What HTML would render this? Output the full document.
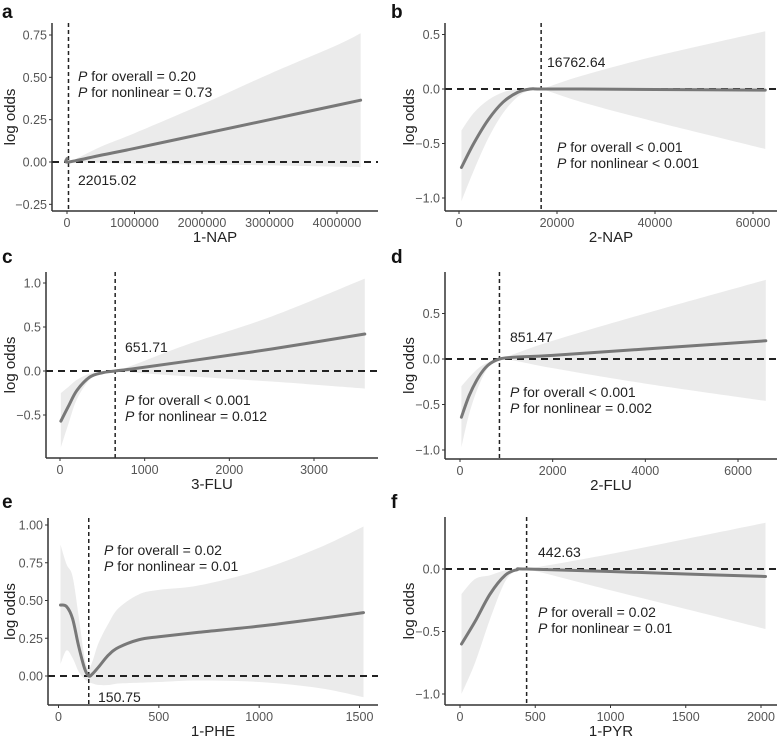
<!DOCTYPE html>
<html><head><meta charset="utf-8">
<style>
html,body{margin:0;padding:0;background:#fff;}
svg{display:block;font-family:"Liberation Sans",Arial,sans-serif;}
.tick{font-size:12.5px;fill:#555;}
.axt{font-size:15px;fill:#222;}
.ann{font-size:14px;fill:#222;}
.letter{font-size:19px;font-weight:bold;fill:#111;}
</style></head>
<body>
<svg id="chart" width="783" height="738" viewBox="0 0 783 738"></svg>
<script>
// ---- data arrays ----
const aX=[0,22015,500000,1000000,2000000,3000000,4000000,4350000];
const aY=[0.02,0,0.04,0.08,0.165,0.25,0.335,0.365];
const aLo=[0.01,0,-0.005,-0.01,-0.015,-0.02,-0.028,-0.03];
const aHi=[0.04,0,0.09,0.17,0.34,0.52,0.69,0.76];
const bX=[500,3000,6000,9000,12000,14500,16762,25000,40000,62500];
const bY=[-0.72,-0.5,-0.28,-0.12,-0.03,0,0,0,-0.005,-0.01];
const bLo=[-1.03,-0.75,-0.45,-0.22,-0.07,-0.01,0,-0.12,-0.3,-0.55];
const bHi=[-0.38,-0.22,-0.1,-0.03,0,0.005,0,0.12,0.3,0.53];
const cX=[10,100,200,350,500,651.71,900,1500,2500,3600];
const cY=[-0.57,-0.4,-0.22,-0.07,-0.02,0,0.03,0.11,0.25,0.42];
const cLo=[-0.87,-0.6,-0.32,-0.1,-0.03,0,-0.02,-0.06,-0.12,-0.2];
const cHi=[-0.25,-0.18,-0.1,-0.03,-0.01,0,0.08,0.3,0.62,1.05];
const dX=[30,200,400,600,851.47,1200,2000,4000,6600];
const dY=[-0.64,-0.4,-0.2,-0.07,0,0.02,0.04,0.11,0.2];
const dLo=[-0.97,-0.6,-0.3,-0.1,0,-0.02,-0.1,-0.27,-0.46];
const dHi=[-0.3,-0.2,-0.1,-0.04,0,0.06,0.2,0.5,0.87];
const eX=[10,40,70,100,130,150.75,170,200,250,300,400,500,700,1000,1300,1520];
const eY=[0.47,0.46,0.38,0.2,0.05,0,0.015,0.06,0.14,0.19,0.24,0.26,0.29,0.33,0.38,0.42];
const eLo=[0.08,0.17,0.12,0.03,-0.02,-0.04,-0.05,-0.06,-0.06,-0.05,-0.045,-0.04,-0.03,-0.04,-0.08,-0.14];
const eHi=[0.87,0.74,0.66,0.4,0.12,0.05,0.1,0.22,0.35,0.45,0.54,0.57,0.6,0.7,0.85,0.99];
const fX=[10,100,200,300,380,442.63,1000,1500,2030];
const fY=[-0.6,-0.42,-0.2,-0.05,-0.005,0,-0.02,-0.04,-0.06];
const fLo=[-1.0,-0.75,-0.4,-0.1,-0.01,0,-0.17,-0.32,-0.48];
const fHi=[-0.2,-0.08,-0.05,-0.01,0,0,0.12,0.24,0.37];
const aXTicks=[0,1000000,2000000,3000000,4000000], aYTicks=[-0.25,0,0.25,0.5,0.75];
const bXTicks=[0,20000,40000,60000], bYTicks=[-1,-0.5,0,0.5];
const cXTicks=[0,1000,2000,3000], cYTicks=[-0.5,0,0.5,1];
const dXTicks=[0,2000,4000,6000], dYTicks=[-1,-0.5,0,0.5];
const eXTicks=[0,500,1000,1500], eYTicks=[0,0.25,0.5,0.75,1];
const fXTicks=[0,500,1000,1500,2000], fYTicks=[-1,-0.5,0];
const cutoffs=[22015.02,16762.64,651.71,851.47,150.75,442.63];
const cutoffLabels=["22015.02","16762.64","651.71","851.47","150.75","442.63"];
const xTitles=["1-NAP","2-NAP","3-FLU","2-FLU","1-PHE","1-PYR"];
const pOverall=["= 0.20","< 0.001","< 0.001","< 0.001","= 0.02","= 0.02"];
const pNonlin=["= 0.73","< 0.001","= 0.012","= 0.002","= 0.01","= 0.01"];

// ---- layout ----
const NS="http://www.w3.org/2000/svg";
const svg=document.getElementById('chart');
function mk(tag,attrs,parent){const e=document.createElementNS(NS,tag);for(const k in attrs)e.setAttribute(k,attrs[k]);(parent||svg).appendChild(e);return e;}
function lin(d0,d1,r0,r1){return v=>r0+(v-d0)*(r1-r0)/(d1-d0);}
function fmt(v,dec){return v<0?'\u2212'+Math.abs(v).toFixed(dec):v.toFixed(dec);}
function spline(pts){
  let d='M'+pts[0][0]+','+pts[0][1];
  for(let i=0;i<pts.length-1;i++){
    const p0=pts[Math.max(0,i-1)],p1=pts[i],p2=pts[i+1],p3=pts[Math.min(pts.length-1,i+2)];
    const c1=[p1[0]+(p2[0]-p0[0])/6,p1[1]+(p2[1]-p0[1])/6];
    const c2=[p2[0]-(p3[0]-p1[0])/6,p2[1]-(p3[1]-p1[1])/6];
    d+=' C'+c1[0]+','+c1[1]+' '+c2[0]+','+c2[1]+' '+p2[0]+','+p2[1];
  }
  return d;
}
const panels=[
 {id:'a',X:aX,Y:aY,LO:aLo,HI:aHi,xt:aXTicks,yt:aYTicks,ydec:2,ax:52,bottom:211,top:23,right:378,xs:[0,4000000,67,337],ys:[0,0.75,162,35],lx:2,ly:18,ylx:15,
  cl:[78,185],p:[78,81],cutIdx:0},
 {id:'b',X:bX,Y:bY,LO:bLo,HI:bHi,xt:bXTicks,yt:bYTicks,ydec:1,ax:445,bottom:211,top:23,right:777,xs:[0,60000,459,753],ys:[0,0.5,89,34.5],lx:391,ly:18,ylx:414,
  cl:[547,67],p:[557,152],cutIdx:1},
 {id:'c',X:cX,Y:cY,LO:cLo,HI:cHi,xt:cXTicks,yt:cYTicks,ydec:1,ax:46,bottom:458,top:272,right:378,xs:[0,3000,60,314],ys:[0,1,371,283],lx:2,ly:263,ylx:15,
  cl:[125,352],p:[125,405],cutIdx:2},
 {id:'d',X:dX,Y:dY,LO:dLo,HI:dHi,xt:dXTicks,yt:dYTicks,ydec:1,ax:445,bottom:459,top:272,right:777,xs:[0,6000,460,738],ys:[0,0.5,359,313.5],lx:391,ly:263,ylx:414,
  cl:[510,342],p:[510,397],cutIdx:3},
 {id:'e',X:eX,Y:eY,LO:eLo,HI:eHi,xt:eXTicks,yt:eYTicks,ydec:2,ax:48,bottom:705,top:518,right:378,xs:[0,1500,58.5,359.5],ys:[0,1,676,525],lx:2,ly:508,ylx:15,
  cl:[98,702],p:[104,555],cutIdx:4},
 {id:'f',X:fX,Y:fY,LO:fLo,HI:fHi,xt:fXTicks,yt:fYTicks,ydec:1,ax:445,bottom:705,top:517,right:777,xs:[0,2000,460,761],ys:[0,-1,569,694],lx:391,ly:508,ylx:414,
  cl:[538,557],p:[538,617],cutIdx:5}
];
panels.forEach(P=>{
  const g=mk('g',{});
  
  
  const sx=lin(P.xs[0],P.xs[1],P.xs[2],P.xs[3]);
  const sy=lin(P.ys[0],P.ys[1],P.ys[2],P.ys[3]);
  const up=P.X.map((x,i)=>[sx(x),sy(P.HI[i])]);
  const lo=P.X.map((x,i)=>[sx(x),sy(P.LO[i])]).reverse();
  let band=spline(up)+' L'+lo[0][0]+','+lo[0][1]+spline(lo).slice(1).replace(/^[^C]*/,'')+' Z';
  const bandEl=mk('path',{d:band,fill:'#ebebeb',stroke:'none'},g);
  
  
  const h=mk('line',{x1:P.ax,x2:P.right,y1:sy(0),y2:sy(0),stroke:'#222','stroke-width':2,'stroke-dasharray':'7,5'},g);
  
  
  const cx=sx(cutoffs[P.cutIdx]);
  const v=mk('line',{x1:cx,x2:cx,y1:P.top,y2:P.bottom,stroke:'#222','stroke-width':1.5,'stroke-dasharray':'4,3'},g);
  
  
  const c=mk('path',{d:spline(P.X.map((x,i)=>[sx(x),sy(P.Y[i])])),fill:'none',stroke:'#787878','stroke-width':3,'stroke-linecap':'round'},g);
  
  
  const ya=mk('line',{x1:P.ax,x2:P.ax,y1:P.top,y2:P.bottom,stroke:'#333','stroke-width':1.5},g);
  
  
  const xa=mk('line',{x1:P.ax,x2:P.right,y1:P.bottom,y2:P.bottom,stroke:'#333','stroke-width':1.5},g);
  
  
  P.yt.forEach(t=>{
    const y=sy(t);
    mk('line',{x1:P.ax-3,x2:P.ax,y1:y,y2:y,stroke:'#333','stroke-width':1},g);
    const tx=mk('text',{x:P.ax-5,y:y+4.5,'text-anchor':'end',class:'tick'},g);
    tx.textContent=fmt(t,P.ydec);
    
    
  });
  P.xt.forEach(t=>{
    const x=sx(t);
    mk('line',{x1:x,x2:x,y1:P.bottom,y2:P.bottom+3,stroke:'#333','stroke-width':1},g);
    const tx=mk('text',{x:x,y:P.bottom+16,'text-anchor':'middle',class:'tick'},g);
    tx.textContent=String(t);
    
    
  });
  const xt=mk('text',{x:(P.ax+P.right)/2,y:P.bottom+31,'text-anchor':'middle',class:'axt'},g);
  xt.textContent=xTitles[P.cutIdx];
  
  
  const ymid=(P.top+P.bottom)/2;
  const yt=mk('text',{x:P.ylx,y:ymid,'text-anchor':'middle',class:'axt',transform:'rotate(-90 '+P.ylx+' '+ymid+')'},g);
  yt.textContent='log odds';
  
  
  const L=mk('text',{x:P.lx,y:P.ly,class:'letter'},g);
  L.textContent=P.id;
  
  
  const cl=mk('text',{x:P.cl[0],y:P.cl[1],class:'ann'},g);
  cl.textContent=cutoffLabels[P.cutIdx];
  
  
  const p1=mk('text',{x:P.p[0],y:P.p[1],class:'ann'},g);
  p1.innerHTML='<tspan font-style="italic">P</tspan> for overall '+pOverall[P.cutIdx];
  
  
  const p2=mk('text',{x:P.p[0],y:P.p[1]+16,class:'ann'},g);
  p2.innerHTML='<tspan font-style="italic">P</tspan> for nonlinear '+pNonlin[P.cutIdx];
  
  
});
</script>
</body></html>
